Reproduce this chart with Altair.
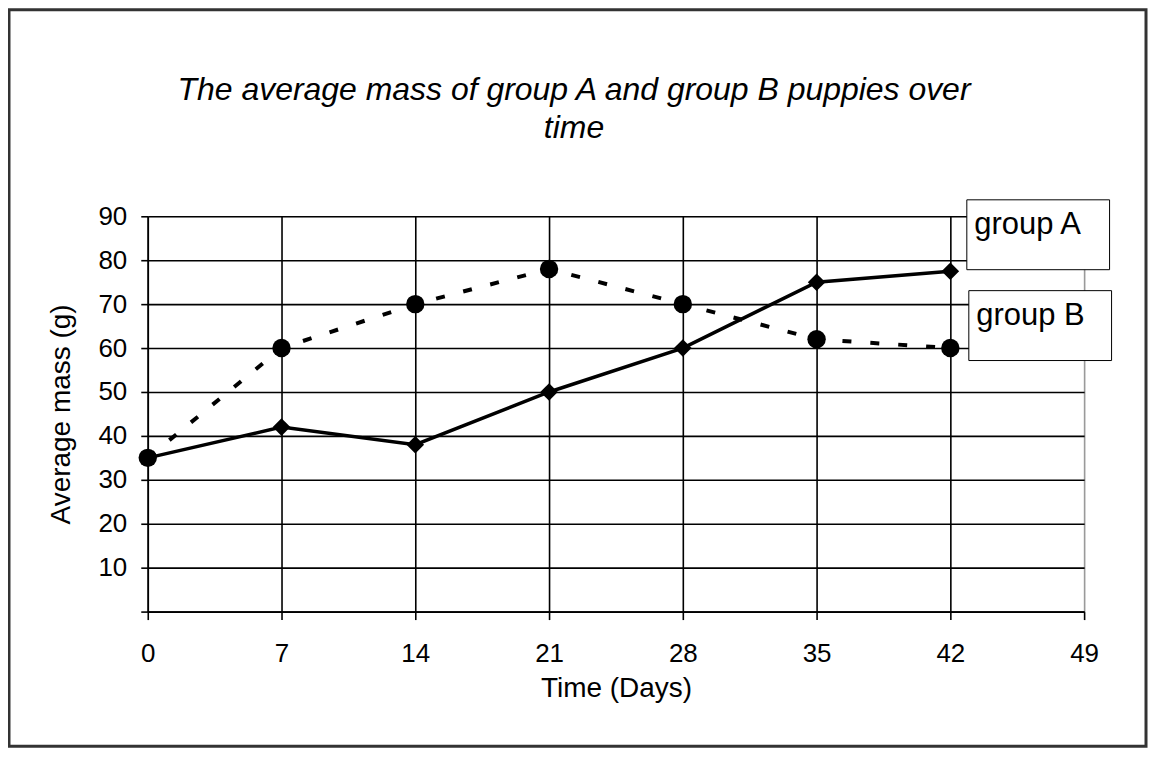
import altair as alt
import pandas as pd

# ---- data ----
days = [0, 7, 14, 21, 28, 35, 42]
group_a = [35, 42, 38, 50, 60, 75, 77.5]
group_b = [35, 60, 70, 78, 70, 62, 60]
series_names = ["group A", "group B"]
x_ticks = [0, 7, 14, 21, 28, 35, 42, 49]
y_ticks = [0, 10, 20, 30, 40, 50, 60, 70, 80, 90]
title_lines = ["The average mass of group A and group B puppies over", "time"]
x_title = "Time (Days)"
y_title = "Average mass (g)"

df = pd.DataFrame({
    "day": days + days,
    "mass": group_a + group_b,
    "group": [series_names[0]] * len(days) + [series_names[1]] * len(days),
})

FONT = "Liberation Sans"

x_enc = alt.X(
    "day:Q",
    scale=alt.Scale(domain=[0, 49], nice=False, zero=False),
    axis=alt.Axis(
        values=x_ticks, title=x_title, grid=True,
        gridColor={"condition": {"test": "datum.value === 49", "value": "#9a9a9a"}, "value": "black"},
        gridWidth=1.6, domainColor="black", domainWidth=1.6,
        tickColor="black", tickWidth=1.6, tickSize=8,
        labelFont=FONT, labelFontSize=26, labelColor="black", labelPadding=21,
        labelFlush=False, labelOverlap=False,
        titleFont=FONT, titleFontSize=28, titleFontWeight="normal", titleColor="black",
        titleY=85, titleBaseline="alphabetic",
    ),
)
y_enc = alt.Y(
    "mass:Q",
    scale=alt.Scale(domain=[0, 90], nice=False),
    axis=alt.Axis(
        values=y_ticks, title=y_title, grid=True,
        labelExpr="datum.value == 0 ? '' : datum.label",
        gridColor="black", gridWidth=1.6, domainColor="black", domainWidth=1.6,
        tickColor="black", tickWidth=1.6, tickSize=7,
        labelFont=FONT, labelFontSize=26, labelColor="black", labelPadding=14,
        titleFont=FONT, titleFontSize=28, titleFontWeight="normal", titleColor="black",
        titleAngle=270, titleX=-78, titleY=198, titleAlign="center", titleBaseline="alphabetic",
    ),
)


def box_legend(lx, ly):
    return alt.Legend(
        title=None, orient="none", legendX=lx, legendY=ly, padding=8,
        symbolSize=2916, symbolType="square", symbolOpacity=0, symbolStrokeWidth=0,
        symbolOffset={"expr": "73"},
        labelOffset={"expr": "-127"}, labelFont=FONT, labelFontSize=31, labelColor="black",
        labelBaseline="alphabetic",
        strokeColor="black", fillColor="white",
    )


base = alt.Chart(df)

layer_a_data = base.transform_filter(alt.datum.group == series_names[0])
color_a = alt.Color("group:N", scale=alt.Scale(domain=[series_names[0]], range=["black"]),
                    legend=box_legend(820, -17))
line_a = layer_a_data.mark_line(strokeWidth=3.5).encode(x=x_enc, y=y_enc, color=color_a)
pts_a = layer_a_data.mark_point(filled=True, shape="diamond", size=310, opacity=1).encode(
    x=x_enc, y=y_enc, color=color_a)
layer_a = alt.layer(line_a, pts_a)

layer_b_data = base.transform_filter(alt.datum.group == series_names[1])
color_b = alt.Color("group:N", scale=alt.Scale(domain=[series_names[1]], range=["black"]),
                    legend=box_legend(822, 74))
line_b = layer_b_data.mark_line(strokeWidth=4, strokeDash=[9, 19]).encode(x=x_enc, y=y_enc, color=color_b)
pts_b = layer_b_data.mark_point(filled=True, shape="circle", size=340, opacity=1).encode(
    x=x_enc, y=y_enc, color=color_b)
layer_b = alt.layer(line_b, pts_b)

frame = alt.Chart(pd.DataFrame({"k": [0]})).mark_rect(
    fill="transparent", stroke="#333333", strokeWidth=3
).encode(x=alt.value(-139), x2=alt.value(1000), y=alt.value(-207), y2=alt.value(531))

chart = alt.layer(frame, layer_a, layer_b).resolve_scale(color="independent").properties(
    width=938, height=396,
    padding={"left": 140, "top": 208, "right": 65, "bottom": 137},
    autosize=alt.AutoSizeParams(type="none"),
    title=alt.TitleParams(
        text=title_lines, font=FONT, fontSize=32, fontStyle="italic", fontWeight="normal",
        color="black", anchor="middle", dx=-42, offset={"expr": "-162"}, lineHeight=38,
        baseline="alphabetic",
    ),
).configure_view(strokeWidth=0).configure(background="white")

chart.save("out.html", embed_options={"renderer": "svg", "actions": False})
